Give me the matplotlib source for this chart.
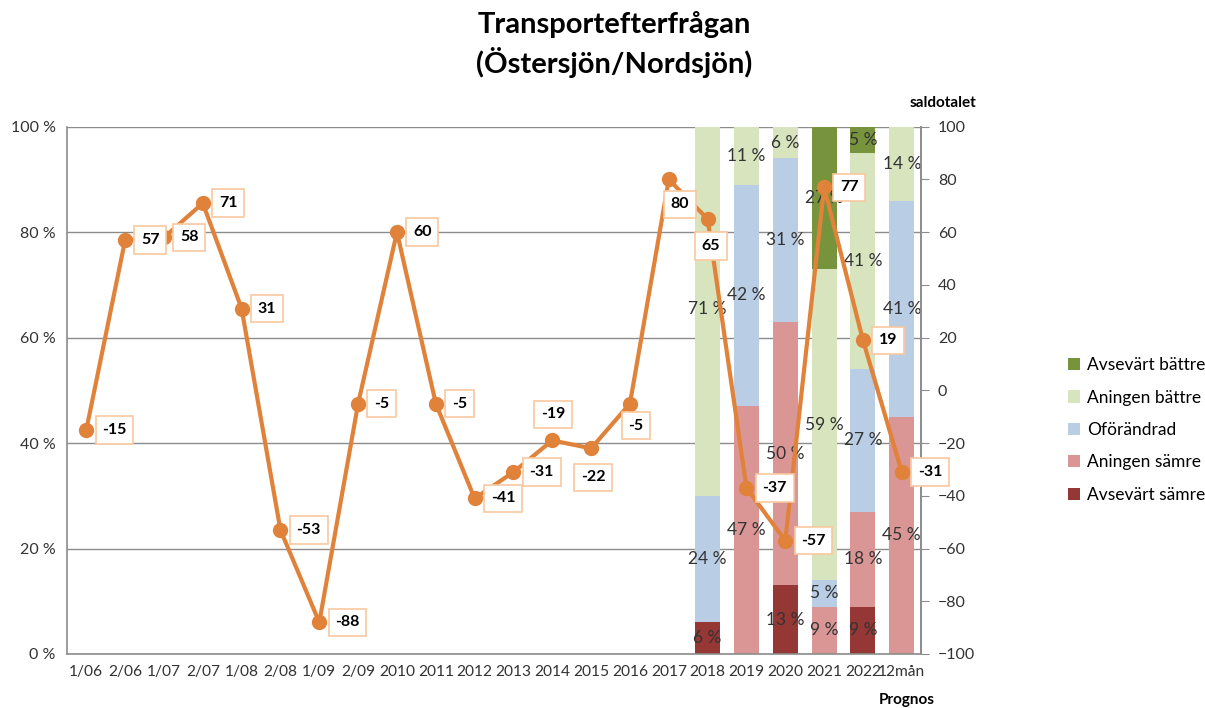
import numpy as np
import matplotlib
matplotlib.use("Agg")
import matplotlib.pyplot as plt
import matplotlib.ticker as mtick

plt.rcParams['font.family'] = ['Lato', 'DejaVu Sans']

categories = ["1/06", "2/06", "1/07", "2/07", "1/08", "2/08", "1/09", "2/09",
              "2010", "2011", "2012", "2013", "2014", "2015", "2016", "2017",
              "2018", "2019", "2020", "2021", "2022", "12mån"]

saldotal = [-15, 57, 58, 71, 31, -53, -88, -5, 60, -5, -41, -31, -19, -22, -5, 80,
            65, -37, -57, 77, 19, -31]

# staplar finns bara för 2018 och framåt
bar_categories = ["2018", "2019", "2020", "2021", "2022", "12mån"]
avsevart_samre = [6, 0, 13, 0, 9, 0]
aningen_samre = [0, 47, 50, 9, 18, 45]
oforandrad = [24, 42, 31, 5, 27, 41]
aningen_battre = [71, 11, 6, 59, 41, 14]
avsevart_battre = [0, 0, 0, 27, 5, 0]

series = [
    ("Avsevärt sämre", avsevart_samre, "#953735"),
    ("Aningen sämre", aningen_samre, "#D99694"),
    ("Oförändrad", oforandrad, "#B9CDE5"),
    ("Aningen bättre", aningen_battre, "#D7E4BD"),
    ("Avsevärt bättre", avsevart_battre, "#77933C"),
]

# placering av etiketterna på linjen (pixlar)
label_offsets = {12: (1, 26), 13: (2, -29), 14: (6, -22), 15: (11, -25), 16: (3, -27)}

orange = "#E0823A"
grey = "#8C8C8C"
txt = "#333333"

fig = plt.figure(figsize=(12.05, 7.08), dpi=100)
ax = fig.add_axes([0.0555, 0.0763, 0.709, 0.7447])
ax2 = ax.twinx()

x = np.arange(len(categories))
bx = np.array([categories.index(c) for c in bar_categories])

bottom = np.zeros(len(bar_categories))
handles = []
for name, vals, col in series:
    v = np.array(vals) / 100.0
    h = ax.bar(bx, v, 0.645, bottom=bottom, color=col, label=name, zorder=2)
    handles.append(h)
    for xi, b, vi, raw in zip(bx, bottom, v, vals):
        if raw > 0:
            ax.text(xi, b + vi / 2, f"{raw} %", ha="center", va="center",
                    fontsize=12.5, color=txt, zorder=3)
    bottom += v

ax.set_xlim(-0.5, len(categories) - 0.5)
ax.set_ylim(0, 1)
ax.set_yticks(np.arange(0, 1.01, 0.2))
ax.yaxis.set_major_formatter(mtick.FuncFormatter(lambda v, p: f"{v * 100:.0f} %"))
ax.set_xticks(x)
ax.set_xticklabels(categories)
ax.tick_params(axis="both", length=0, labelsize=11.5, colors=txt, pad=8)
ax.tick_params(axis="x", labelsize=11.2)
ax.grid(True, axis="y", color=grey, linewidth=1)
ax.set_axisbelow(True)
ax.spines["top"].set_visible(False)
for s in ["left", "bottom", "right"]:
    ax.spines[s].set_color(grey)
    ax.spines[s].set_linewidth(1.2)

ax2.plot(x, saldotal, color=orange, lw=3, marker="o", markersize=10, zorder=5)
ax2.set_ylim(-100, 100)
ax2.set_yticks(np.arange(-100, 101, 20))
ax2.tick_params(axis="y", length=6, color=grey, labelsize=11.5, colors=txt, pad=6)
ax2.tick_params(axis="y", color=grey)
for s in ["top", "left", "bottom"]:
    ax2.spines[s].set_visible(False)
ax2.spines["right"].set_color(grey)
ax2.spines["right"].set_linewidth(1.2)

for i, val in enumerate(saldotal):
    if i in label_offsets:
        dx, dy = label_offsets[i]
        ha = "center"
    else:
        dx, dy = 16, 0
        ha = "left"
    ax2.annotate(f"{val}", (x[i], val), xytext=(dx, dy), textcoords="offset pixels",
                 ha=ha, va="center", fontsize=11.5, fontweight="bold", color="black",
                 bbox=dict(boxstyle="square,pad=0.42", fc="white", ec="#FAC8A0", lw=1.2),
                 zorder=6)

fig.text(0.51, 0.965, "Transportefterfrågan", ha="center", va="center",
         fontsize=21, fontweight="bold")
fig.text(0.51, 0.912, "(Östersjön/Nordsjön)", ha="center", va="center",
         fontsize=21, fontweight="bold")
fig.text(943 / 1205, 1 - 103 / 708, "saldotalet", ha="center", va="center",
         fontsize=11, fontweight="bold")
fig.text(907 / 1205, 1 - 700 / 708, "Prognos", ha="center", va="center",
         fontsize=11, fontweight="bold")

fig.legend(handles[::-1], [s[0] for s in series][::-1], loc="center left",
           bbox_to_anchor=(1052 / 1205, 1 - 430 / 708), frameon=False,
           fontsize=12.5, handlelength=0.7, handleheight=0.7, handletextpad=0.4,
           labelspacing=0.95, labelcolor="black")

fig.savefig("out.png", dpi=100)
